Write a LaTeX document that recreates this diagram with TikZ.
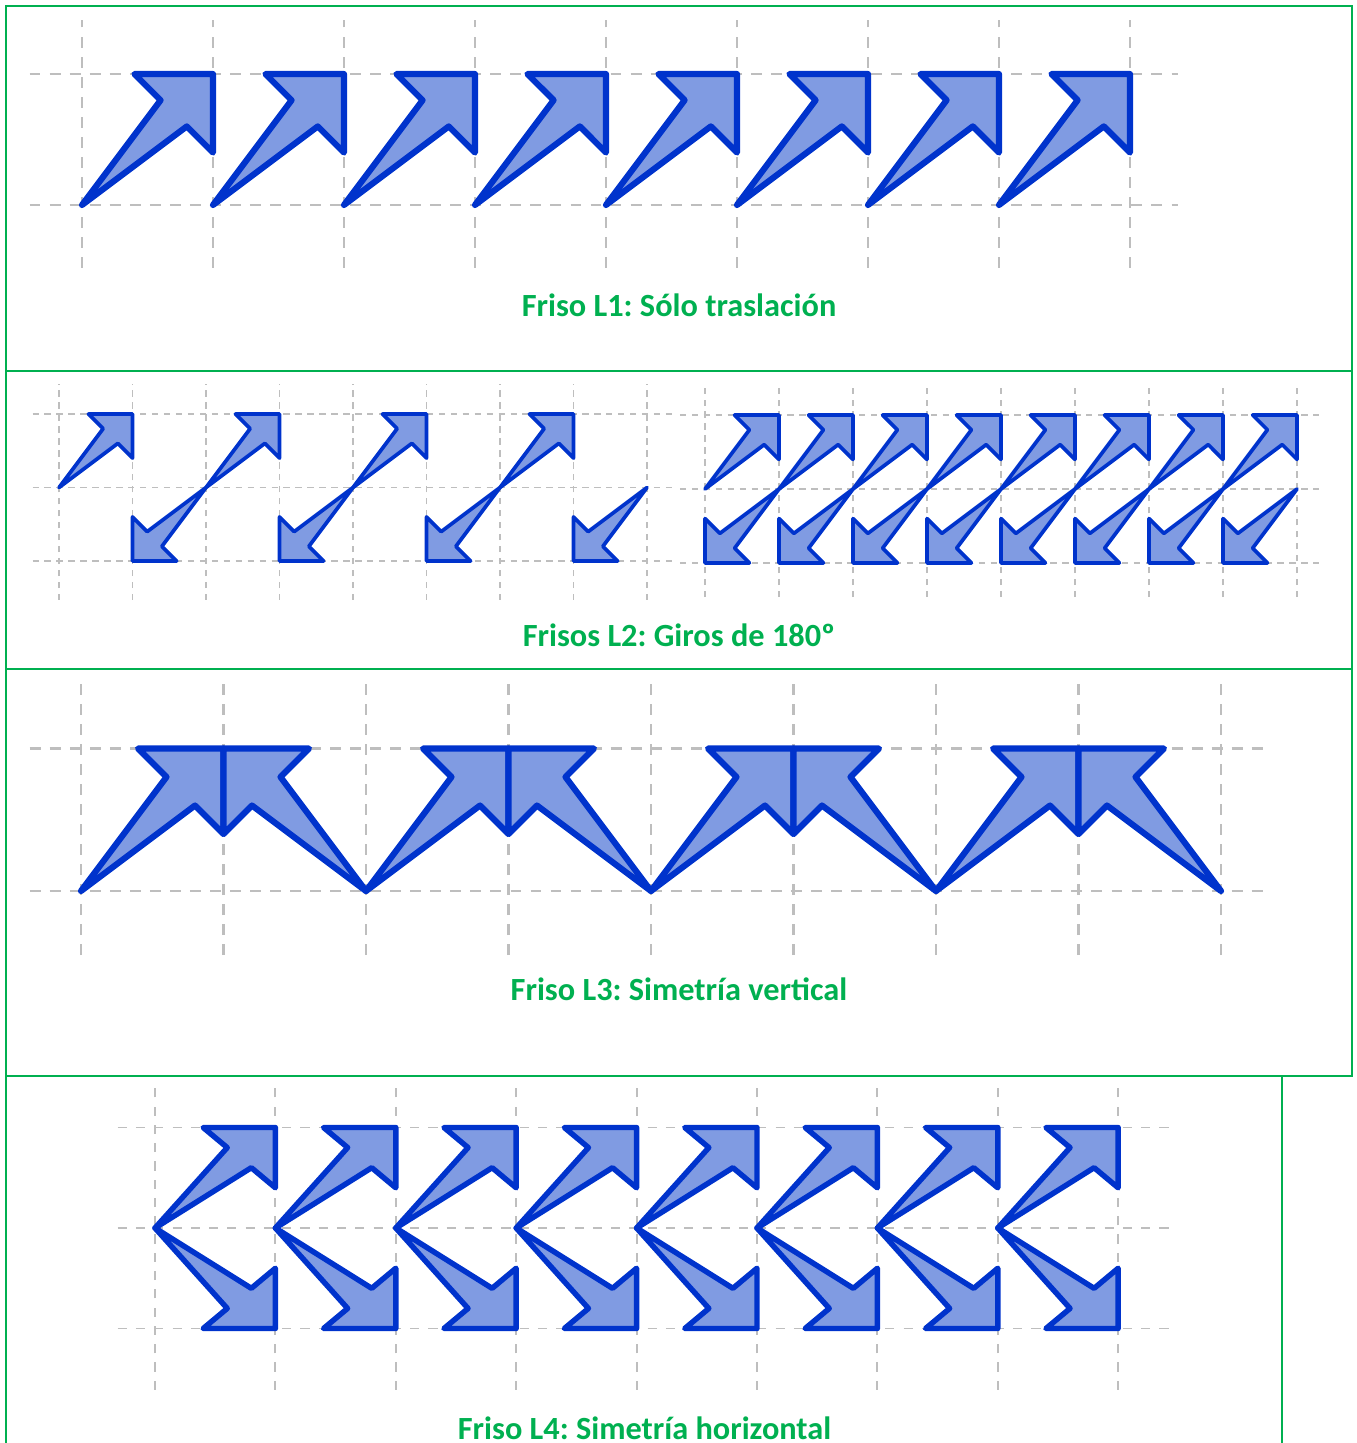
\documentclass[tikz,border=0pt]{standalone}
\usepackage{fontspec}
\setmainfont{Carlito}
\definecolor{verde}{RGB}{0,176,80}
\definecolor{azul}{RGB}{0,51,204}
\definecolor{azulclaro}{RGB}{128,155,226}
\definecolor{grisrejilla}{RGB}{190,190,190}
\tikzset{flecha/.pic={\draw[fl] (0,0) -- (0.6,0.8) -- (0.4,1) -- (1,1) -- (1,0.4) -- (0.8,0.6) -- cycle;}}

\begin{document}
\begin{tikzpicture}[
  fl/.style={draw=azul,fill=azulclaro,line join=round,line width=1.75pt},
  rejilla/.style={grisrejilla,line width=0.75pt,dash pattern=on 3.1pt off 2.6pt},
  marco/.style={verde,line width=0.7pt},
  titulo/.style={text=verde,anchor=base,font=\fontsize{9.2}{11}\selectfont\bfseries\frenchspacing}]

 \useasboundingbox (0,0) rectangle (13.57,-14.43);

 % marcos
 \draw[marco] (0.06,-0.06) rectangle (13.52,-3.71);
 \draw[marco] (0.06,-3.71) rectangle (13.52,-6.69);
 \draw[marco] (0.06,-6.69) rectangle (13.52,-10.76);
 \draw[marco] (0.06,-10.76) -- (0.06,-14.43);
 \draw[marco] (12.82,-10.76) -- (12.82,-14.43);

 % friso L1: traslacion
 \begin{scope}[shift={(0.82,-2.05)},scale=1.31,transform shape]
   \foreach \x in {0,...,8} \draw[rejilla] (\x,-0.48) -- (\x,1.41);
   \foreach \y in {0,1} \draw[rejilla] (-0.4,\y) -- (8.37,\y);
   \foreach \k in {0,...,7} \pic at (\k,0) {flecha};
 \end{scope}
 \node[titulo] (tituloL1) at (6.79,-3.16) {Friso L1: Sólo traslación};

 % frisos L2: giros de 180
 \begin{scope}[shift={(0.59,-5.61)},scale=0.735,transform shape,
   fl/.append style={line width=1.05pt},
   rejilla/.append style={line width=0.45pt,dash pattern=on 1.8pt off 1.6pt}]
   \foreach \x in {0,...,8} \draw[rejilla] (\x,-0.53) -- (\x,2.41);
   \foreach \y in {0,1,2} \draw[rejilla] (-0.36,\y) -- (8.4,\y);
   \foreach \k in {0,2,4,6} {
     \pic at (\k,1) {flecha};
     \pic[rotate=180] at (\k+2,1) {flecha};
   }
 \end{scope}
 \begin{scope}[shift={(7.05,-5.63)},scale=0.74,transform shape,
   fl/.append style={line width=1.05pt},
   rejilla/.append style={line width=0.45pt,dash pattern=on 1.8pt off 1.6pt}]
   \foreach \x in {0,...,8} \draw[rejilla] (\x,-0.46) -- (\x,2.4);
   \foreach \y in {0,1,2} \draw[rejilla] (-0.34,\y) -- (8.3,\y);
   \foreach \k in {0,...,7} {
     \pic at (\k,1) {flecha};
     \pic[rotate=180] at (\k+1,1) {flecha};
   }
 \end{scope}
 \node[titulo] (tituloL2) at (6.79,-6.46) {Frisos L2: Giros de 180º};

 % friso L3: simetria vertical
 \begin{scope}[shift={(0.81,-8.91)},scale=1.425,transform shape]
   \foreach \x in {0,...,8} \draw[rejilla] (\x,-0.45) -- (\x,1.48);
   \foreach \y in {0,1} \draw[rejilla] (-0.36,\y) -- (8.31,\y);
   \foreach \k in {0,2,4,6} {
     \pic at (\k,0) {flecha};
     \pic[xscale=-1] at (\k+2,0) {flecha};
   }
 \end{scope}
 \node[titulo] (tituloL3) at (6.79,-10.0) {Friso L3: Simetría vertical};

 % friso L4: simetria horizontal
 \begin{scope}[shift={(1.55,-12.28)},xscale=1.204,yscale=1.005,transform shape,
   fl/.append style={line width=1.55pt},
   rejilla/.append style={line width=0.55pt,dash pattern=on 2.6pt off 2.6pt}]
   \foreach \x in {0,...,8} \draw[rejilla] (\x,-1.61) -- (\x,1.42);
   \foreach \y in {-1,0,1} \draw[rejilla] (-0.31,\y) -- (8.47,\y);
   \foreach \k in {0,...,7} {
     \pic at (\k,0) {flecha};
     \pic[yscale=-1] at (\k,0) {flecha};
   }
 \end{scope}
 \node[titulo] (tituloL4) at (6.445,-14.39) {Friso L4: Simetría horizontal};
\end{tikzpicture}
\end{document}
